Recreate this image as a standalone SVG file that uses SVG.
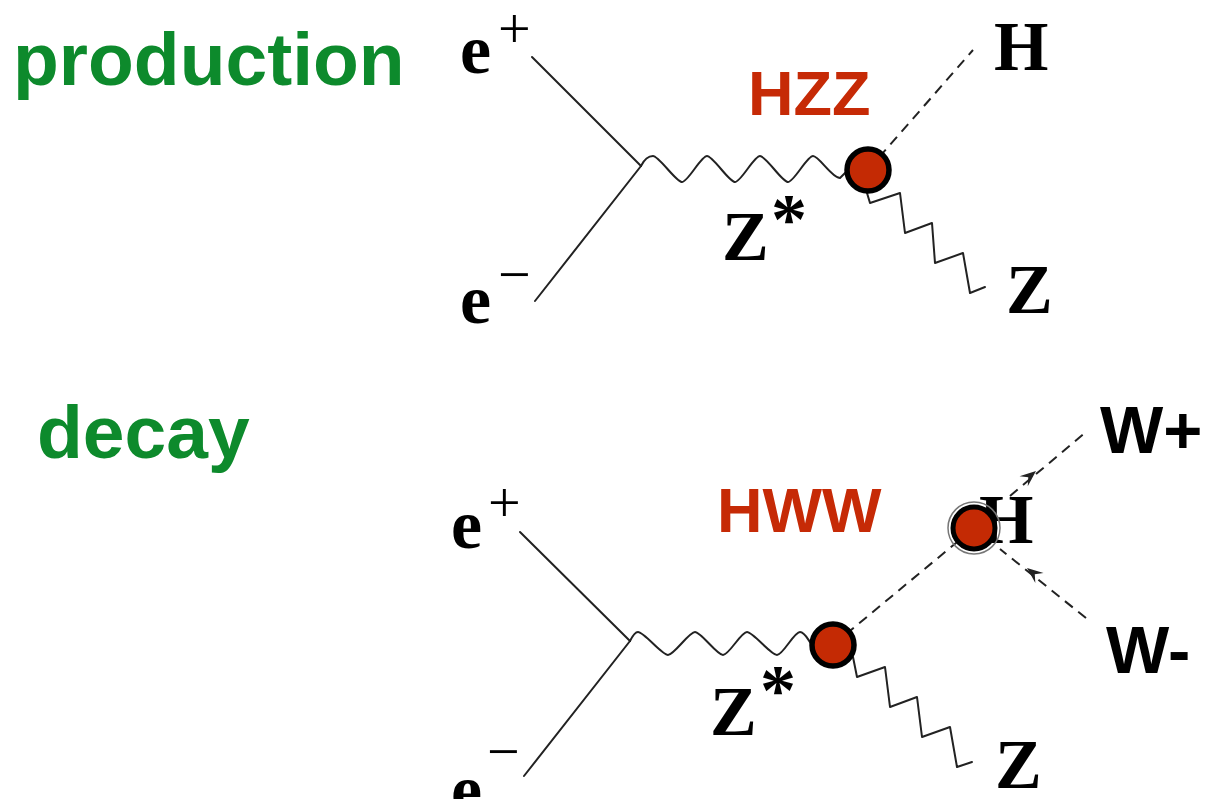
<svg xmlns="http://www.w3.org/2000/svg" xmlns:xlink="http://www.w3.org/1999/xlink" width="1209" height="799" viewBox="0 0 1209 799">
<style>
.lbl{font-family:"Liberation Sans",Arial,sans-serif;font-weight:bold;font-size:75px;fill:#0d8a2c}
.red{font-family:"Liberation Sans",Arial,sans-serif;font-weight:bold;font-size:63px;fill:#c62a06}
.w{font-family:"Liberation Sans",Arial,sans-serif;font-weight:bold;font-size:67px;fill:#000}
.p{font-family:"Liberation Serif","Times New Roman",serif;font-weight:bold;font-size:70px;fill:#000}
.sup{font-family:"Liberation Serif","Times New Roman",serif;font-size:58px;fill:#000}
.star{font-family:"Liberation Serif","Times New Roman",serif;font-weight:bold;font-size:72px;fill:#000}
.f{fill:none;stroke:#222;stroke-width:2;stroke-linejoin:round;stroke-linecap:round}
.d{fill:none;stroke:#222;stroke-width:2;stroke-dasharray:10 7}
.v{fill:#c42a04;stroke:#000;stroke-width:5.5}
</style>
<defs>
<path id="arr" d="M0,0 L-16,-6.5 L-10,0 L-16,6.5 Z" fill="#222"/>
</defs>
<g id="labels">
<text class="lbl" x="13" y="85">production</text>
<text class="lbl" x="37" y="458">decay</text>
</g>
<g id="connectors">
<line class="f" x1="532" y1="57" x2="641" y2="166"/>
<line class="f" x1="641" y1="166" x2="535" y2="301"/>
<path class="f" d="M641,166 C644,160 648,156 653,156 C659,156 676,182 682,182 C688,182 701,156 707,156 C713,156 729,182 735,182 C741,182 754,156 760,156 C766,156 782,182 788,182 C794,182 807,156 813,156 C819,156 832,178 840,178 L846,172"/>
<line class="d" x1="868" y1="170" x2="973" y2="50"/>
<polyline class="f" points="867,193 870,203 900,193 905,233 932,223 935,263 963,253 970,293 985,287"/>
<line class="f" x1="520" y1="532" x2="630" y2="641"/>
<line class="f" x1="630" y1="641" x2="524" y2="776"/>
<path class="f" d="M630,641 C633,635 635,632 638,632 C644,632 662,655 668,655 C674,655 689,632 695,632 C701,632 717,655 723,655 C729,655 741,632 747,632 C753,632 771,655 777,655 C783,655 794,632 800,632 C805,632 808,640 812,645"/>
<line class="d" x1="833" y1="645" x2="974" y2="528"/>
<polyline class="f" points="853,657 857,677 885,667 890,707 917,697 922,737 950,727 957,767 972,762"/>
<line class="d" x1="1010" y1="496" x2="1086" y2="432"/>
<line class="d" x1="1086" y1="618" x2="1000" y2="549"/>
<use xlink:href="#arr" transform="translate(1036,471) rotate(-39.4)"/>
<use xlink:href="#arr" transform="translate(1027,568) rotate(-141)"/>
</g>
<g id="node-top">
<text class="p" x="460" y="73">e</text>
<text class="sup" x="498" y="48">+</text>
<text class="p" x="460" y="323">e</text>
<text class="sup" x="498" y="294">−</text>
<text class="red" x="748" y="115">HZZ</text>
<text class="p" x="722" y="260">Z</text>
<text class="star" x="771" y="243">*</text>
<circle class="v" cx="868" cy="170" r="21"/>
<text class="p" x="994" y="70">H</text>
<text class="p" x="1006" y="313">Z</text>
</g>
<g id="node-bottom">
<text class="p" x="451" y="548">e</text>
<text class="sup" x="488" y="522">+</text>
<text class="p" x="451" y="813">e</text>
<text class="sup" x="487" y="771">−</text>
<text class="red" x="717" y="532">HWW</text>
<text class="p" x="710" y="735">Z</text>
<text class="star" x="760" y="714">*</text>
<circle class="v" cx="833" cy="645" r="21"/>
<text class="p" x="995" y="788">Z</text>
</g>
<g id="node-H">
<text class="p" x="979" y="543">H</text>
<circle cx="974" cy="528" r="26" fill="none" stroke="#777" stroke-width="1.5"/>
<circle cx="974" cy="528" r="21" fill="#c42a04" stroke="#000" stroke-width="5"/>
</g>
<g id="node-W">
<text class="w" x="1100" y="453">W+</text>
<text class="w" x="1106" y="673">W-</text>
</g>
</svg>
